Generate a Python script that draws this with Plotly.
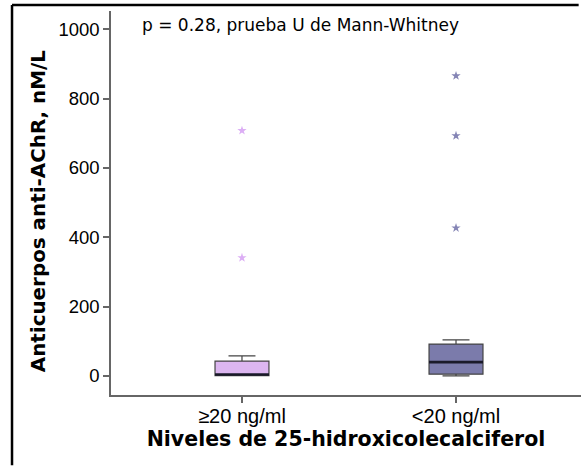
import plotly.graph_objects as go

categories = ["≥20 ng/ml", "<20 ng/ml"]
lower_fence = [1, 0]
q1 = [1, 5]
median = [4, 40]
q3 = [43, 92]
upper_fence = [58, 104]
outliers = [[708, 341], [866, 693, 427]]

fill_colors = ["#dcb6f0", "#7b7bab"]
star_colors = ["#dcaef5", "#8585b5"]
box_width = 0.252

fig = go.Figure()
for i, cat in enumerate(categories):
    fig.add_trace(go.Box(
        x=[i], q1=[q1[i]], median=[median[i]], q3=[q3[i]],
        lowerfence=[lower_fence[i]], upperfence=[upper_fence[i]],
        width=box_width, whiskerwidth=0.5, fillcolor=fill_colors[i],
        line=dict(color="#444444", width=1.2), boxpoints=False,
        showlegend=False, name=cat, hoverinfo="skip"))
    fig.add_trace(go.Scatter(
        x=[i - box_width / 2, i + box_width / 2], y=[median[i], median[i]],
        mode="lines", line=dict(color="#1a1a2a", width=2.6),
        showlegend=False, hoverinfo="skip"))
    fig.add_trace(go.Scatter(
        x=[i] * len(outliers[i]), y=outliers[i], mode="markers",
        marker=dict(symbol="star", size=7, color=star_colors[i], line=dict(width=0)),
        showlegend=False, hoverinfo="skip"))

fig.update_layout(
    width=581, height=467,
    margin=dict(l=111, r=0, t=11, b=72),
    paper_bgcolor="white", plot_bgcolor="white",
    font=dict(family="Liberation Sans, Arial, sans-serif", color="#000"),
)
fig.update_xaxes(
    range=[-0.612, 1.584], tickvals=[0, 1], ticktext=categories,
    showline=True, linecolor="#666", linewidth=1.5, showgrid=False, zeroline=False,
    ticks="outside", ticklen=6, tickcolor="#666", tickwidth=1.5,
    tickfont=dict(size=20, family="Liberation Sans, Arial"),
    ticklabelstandoff=-4,
    automargin=False,
    title=dict(text="<b>Niveles de 25-hidroxicolecalciferol</b>",
               font=dict(size=20.5, family="DejaVu Sans"), standoff=6),
)
fig.update_yaxes(
    range=[-55, 1053], tickvals=[0, 200, 400, 600, 800, 1000],
    showline=True, linecolor="#666", linewidth=1.5, showgrid=False, zeroline=False,
    ticks="outside", ticklen=6, tickcolor="#666", tickwidth=1.5,
    tickfont=dict(size=18.5, family="Liberation Sans, Arial"),
    automargin=False,
)
fig.add_annotation(
    text="<b>Anticuerpos anti-AChR, nM/L</b>", textangle=-90,
    xref="paper", yref="paper", x=-0.155, y=0.479,
    xanchor="center", yanchor="middle", showarrow=False,
    font=dict(size=19.9, family="DejaVu Sans", color="#000"))
fig.add_annotation(
    text="p = 0.28, prueba U de Mann-Whitney", xref="paper", yref="paper",
    x=0.0617, y=0.9635, xanchor="left", yanchor="middle", showarrow=False,
    font=dict(size=17, family="DejaVu Sans", color="#000"))

# outer frame (cropped border of the original image), kept inside the canvas
fig.add_shape(type="line", xref="paper", yref="paper", x0=-0.2106, x1=0.995,
              y0=1.0156, y1=1.0156, line=dict(color="#000", width=2.5))
fig.add_shape(type="line", xref="paper", yref="paper", x0=-0.2106, x1=-0.2106,
              y0=1.0156, y1=-0.183, line=dict(color="#000", width=2.5))

fig.write_html(
    "out.html",
    config={"displayModeBar": False},
    post_script="document.body.style.margin='0';document.body.style.overflow='hidden';"
                "document.documentElement.style.overflow='hidden';",
)
